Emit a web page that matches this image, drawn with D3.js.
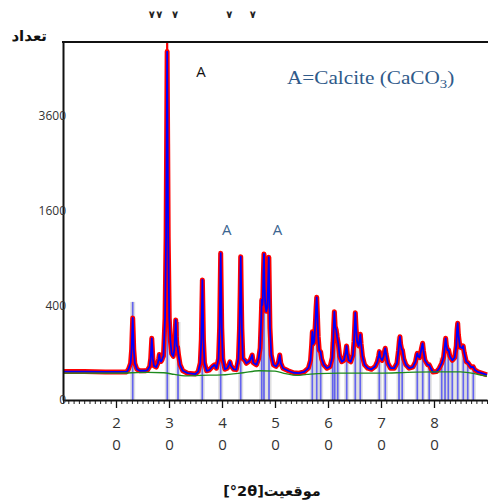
<!DOCTYPE html>
<html><head><meta charset="utf-8">
<script src="https://cdn.jsdelivr.net/npm/d3@7"></script>
<style>body{margin:0;background:#fff}svg{display:block}</style>
</head><body><svg id="c" width="488" height="503"></svg>
<script>
const yTickValues=[0,400,1600,3600];
const xTickValues=[20,30,40,50,60,70,80];
const xTickLabels=["20","30","40","50","60","70","80"];
const topMarks=[26.74,28.17,31.13,41.38,45.8];
const stickPos=[23.15,29.68,31.7,36.28,39.75,43.53,47.49,47.92,48.87,57.04,57.87,58.62,60.88,61.26,61.83,63.53,65.15,66.09,69.68,70.81,73.4,74.0,76.85,77.87,79.1,81.45,82.08,82.7,83.45,84.47,85.53,86.36,87.42];
const stickCounts=[428,5700,271,641,958,914,445,949,906,207,469,104,150,347,200,130,339,192,104,119,178,110,97,143,55,80,169,111,70,262,130,65,49];
const background=[[10,32],[20,32],[26,34],[29,33],[31,29],[33,26],[36,27],[40,28],[44,33],[47,38],[50,37],[52,31],[54,27],[56,29],[58,31],[62,32],[66,32],[70,32],[75,34],[80,35],[85,35],[88,30],[90,25]];
const calcProfile=[
[10,36],[14,36],[18,35],[22,35],
[22.35,42],[22.75,60],[22.95,114],[23.05,201],[23.15,299],[23.25,201],[23.35,114],[23.55,60],[23.95,42],
[24.5,38],[25.5,38],
[25.95,40],[26.35,50],[26.55,77],[26.65,120],[26.75,169],[26.85,120],[26.95,77],[27.15,52],
[27.6,48],[27.9,60],[28.05,75],[28.17,92],[28.3,72],[28.5,66],[28.7,72],[28.8,80],[28.95,85],
[29.05,140],[29.25,297],[29.45,1185],[29.55,2915],[29.65,5400],[29.75,2915],[29.85,1185],[30.05,297],[30.25,160],
[30.5,95],[30.8,85],[31.0,110],[31.15,190],[31.27,285],[31.38,180],[31.5,130],[31.62,125],[31.8,90],[32.1,55],[32.6,38],[33.5,32],[35,30],
[35.5,36],[35.9,61],[36.1,164],[36.2,366],[36.3,641],[36.4,366],[36.5,164],[36.7,61],[37.1,38],
[37.6,40],[38.2,50],[38.6,55],[38.95,45],
[39.35,76],[39.55,234],[39.65,540],[39.75,958],[39.85,540],[39.95,234],[40.15,76],[40.55,42],
[41.0,45],[41.3,55],[41.5,65],[41.7,52],[42.2,42],[42.7,41],
[43.1,76],[43.3,226],[43.43,517],[43.53,914],[43.63,517],[43.75,226],[43.95,76],[44.3,70],[44.6,60],[45.0,65],[45.3,70],[45.7,90],[45.9,62],[46.2,58],[46.5,55],[46.9,75],
[47.2,120],[47.4,300],[47.5,445],[47.6,400],[47.7,450],[47.8,700],[47.92,949],[48.02,600],[48.15,420],[48.35,350],[48.55,380],[48.7,600],[48.83,906],[48.93,550],[49.05,230],[49.3,90],[49.7,55],
[50.2,50],[50.6,60],[50.9,90],[51.1,60],[51.5,45],[52.5,38],[53.5,33],[54.5,32],[55.5,35],[56.3,45],
[56.7,70],[56.9,130],[57.05,207],[57.2,140],[57.4,150],[57.6,250],[57.75,380],[57.87,469],[58.0,330],[58.15,180],[58.35,110],[58.6,104],[58.8,75],[59.2,55],[59.8,45],[60.4,50],
[60.8,80],[61.0,170],[61.1,260],[61.2,347],[61.35,240],[61.55,218],[61.7,180],[61.95,140],[62.2,85],[62.6,65],[63.0,70],[63.3,95],[63.5,130],[63.65,95],[63.9,70],[64.3,65],[64.7,90],
[64.9,150],[65.05,250],[65.15,339],[65.3,230],[65.5,150],[65.8,130],[66.0,175],[66.1,192],[66.25,140],[66.5,85],[66.9,55],[67.5,45],[68.2,42],[68.9,50],[69.3,65],[69.55,85],[69.7,104],[69.85,80],[70.2,70],[70.5,85],[70.7,110],[70.8,119],[70.95,95],[71.3,60],[71.8,45],[72.5,45],[73.0,60],
[73.3,110],[73.45,150],[73.58,178],[73.7,140],[73.9,115],[74.05,110],[74.3,75],[74.7,55],[75.3,45],[76.0,48],[76.5,65],[76.75,90],[76.85,97],[77.0,85],[77.3,80],[77.65,120],[77.85,143],[78.0,110],[78.3,70],[78.8,55],[79.1,55],[79.5,42],[79.8,35],[80.5,36],[81.0,45],[81.45,60],[81.8,80],
[82.0,120],[82.2,169],[82.35,130],[82.55,110],[82.75,111],[83.0,85],[83.45,70],[83.9,80],[84.2,130],[84.35,220],[84.47,262],[84.6,190],[84.9,125],[85.3,120],[85.5,130],[85.7,100],[86.1,65],[86.4,62],[87.0,48],[87.4,49],[87.7,40],[88.3,35],[89,32],[90,28]
];
const observedPeakTop=[[29.55,3000],[29.65,6000],[29.75,3000]];
const peakLabels=[{text:"A",t:36.04,c:4640,color:"#111"},{text:"A",t:40.89,c:1212,color:"#3c6590"},{text:"A",t:50.47,c:1212,color:"#3c6590"}];

const svg=d3.select("#c");
const x=d3.scaleLinear().domain([10,90]).range([63,487]);
const y=d3.scaleSqrt().domain([0,5700]).range([400,42]);

svg.append("defs").append("clipPath").attr("id","clip").append("rect")
  .attr("x",63).attr("y",42).attr("width",425).attr("height",358);

const plot=svg.append("g").attr("clip-path","url(#clip)");

// sticks
const sticks=d3.range(stickPos.length).map(i=>({t:stickPos[i],c:stickCounts[i]}));
plot.selectAll("rect.gb").data(sticks).join("rect").attr("class","gb")
  .attr("x",d=>x(d.t)-2.5).attr("width",5)
  .attr("y",d=>y(Math.min(d.c,1000))).attr("height",d=>400-y(Math.min(d.c,1000)))
  .attr("fill","#d2d2d2").attr("opacity",0.7);
plot.selectAll("line.st").data(sticks).join("line").attr("class","st")
  .attr("x1",d=>x(d.t)).attr("x2",d=>x(d.t))
  .attr("y1",400).attr("y2",d=>y(d.c))
  .attr("stroke","#3a3af5").attr("stroke-width",1.7).attr("opacity",0.75);

const line=d3.line().x(d=>x(d[0])).y(d=>y(d[1]));
plot.append("path").datum(observedPeakTop).attr("d",line)
  .attr("fill","none").attr("stroke","#ff0000").attr("stroke-width",2);
plot.append("path").datum(calcProfile).attr("d",line)
  .attr("fill","none").attr("stroke","#ff0000").attr("stroke-width",5).attr("stroke-linejoin","round");
plot.append("path").datum(calcProfile).attr("d",line)
  .attr("fill","none").attr("stroke","#0000ff").attr("stroke-width",1.8).attr("stroke-linejoin","round");
plot.append("path").datum(background).attr("d",line.curve(d3.curveMonotoneX))
  .attr("fill","none").attr("stroke","#1e8a1e").attr("stroke-width",1.3);

// axes
const gx=svg.append("g").attr("transform","translate(0,400)");
gx.call(d3.axisBottom(x).tickValues(d3.range(10,91,1)).tickSize(4).tickSizeOuter(0).tickFormat(""));
gx.select(".domain").remove();
gx.selectAll("line").attr("stroke","#222");
const gx2=svg.append("g").attr("transform","translate(0,400)");
gx2.call(d3.axisBottom(x).tickValues(xTickValues).tickSize(8).tickSizeOuter(0).tickFormat((d,i)=>xTickLabels[i]));
gx2.select(".domain").attr("stroke","#111").attr("stroke-width",2);
gx2.selectAll("line").attr("stroke","#111").attr("stroke-width",1.3);
gx2.selectAll("text").each(function(){
  const s=d3.select(this).text(); const t=d3.select(this); t.text("");
  t.attr("y",0).attr("dy",null);
  t.append("tspan").attr("x",0).attr("y",27.5).text(s[0]);
  t.append("tspan").attr("x",0).attr("y",50).text(s.slice(1));
}).attr("font-family","'Open Sans',sans-serif").attr("font-size",15).attr("fill","#333");

const gy=svg.append("g").attr("transform","translate(63,0)");
gy.call(d3.axisLeft(y).tickValues(yTickValues).tickSize(0).tickPadding(-3).tickFormat(d3.format("d")));
gy.select(".domain").attr("stroke","#111").attr("stroke-width",2);
gy.selectAll("text").attr("font-family","'Open Sans',sans-serif").attr("font-size",12).attr("fill","#333");

svg.append("line").attr("x1",62).attr("x2",488).attr("y1",42).attr("y2",42).attr("stroke","#111").attr("stroke-width",2);

// top marks
svg.selectAll("text.tm").data(topMarks).join("text").attr("class","tm")
  .attr("x",d=>x(d)).attr("y",18).attr("text-anchor","middle")
  .attr("font-family","'DejaVu Sans',sans-serif").attr("font-weight","bold").attr("font-size",10).attr("fill","#222").text("٧");

// peak labels
svg.selectAll("text.pl").data(peakLabels).join("text").attr("class","pl")
  .attr("x",d=>x(d.t)).attr("y",d=>y(d.c)).attr("text-anchor","middle")
  .attr("font-family","'Open Sans',sans-serif").attr("font-size",15).attr("fill",d=>d.color).text(d=>d.text);

// legend
const lg=svg.append("text").attr("x",0).attr("y",0)
  .attr("transform","translate(287,83.5) scale(1.18,1)")
  .attr("font-family","'Liberation Serif','Times New Roman',serif").attr("font-size",18).attr("fill","#2f5a8a");
lg.append("tspan").text("A=Calcite (CaCO");
lg.append("tspan").attr("font-size",12.5).attr("dy",4).text("3");
lg.append("tspan").attr("dy",-4).text(")");

// titles
svg.append("text").attr("x",47).attr("y",41).attr("text-anchor","end")
  .attr("font-family","'DejaVu Sans',sans-serif").attr("font-weight","bold").attr("font-size",15).attr("fill","#111").text("تعداد");
svg.append("text").attr("x",272).attr("y",496).attr("text-anchor","middle")
  .attr("font-family","'DejaVu Sans',sans-serif").attr("font-weight","bold").attr("font-size",14.5).attr("fill","#111").text("[°2θ]موقعیت");
</script></body></html>
